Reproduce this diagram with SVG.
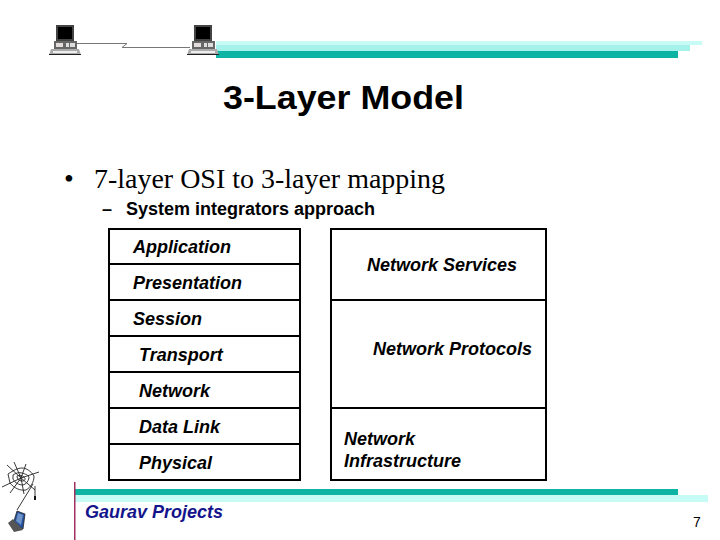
<svg xmlns="http://www.w3.org/2000/svg" width="720" height="540" viewBox="0 0 720 540">
<style>
text{font-family:"Liberation Sans",Arial,sans-serif;fill:#000}
.b{font-weight:bold;font-style:italic;font-size:18px}
.s{font-family:"Liberation Serif","Times New Roman",serif;font-size:28px}
.box{fill:#fff;stroke:#000;stroke-width:2}
.web{fill:none;stroke:#222;stroke-width:.9}
</style>
<defs>
<g id="pc">
<rect x="7" y="0" width="18" height="16" fill="#444"/><rect x="9" y="2" width="14" height="12" fill="#000"/>
<rect x="5" y="16" width="23" height="8" fill="#666"/><rect x="7" y="18" width="7" height="4" fill="#e4dcdc"/><rect x="17" y="18" width="3" height="4" fill="#ddd"/><rect x="21" y="18" width="5" height="4" fill="#ddd"/>
<path d="M2 24H30L32 30H0Z" fill="#aaa"/><rect x="0" y="29" width="32" height="1" fill="#222"/><rect x="4" y="26" width="24" height="2" fill="#eee"/>
</g>
</defs>
<rect width="720" height="540" fill="#fff"/>
<g id="top-bars">
<rect x="216" y="41" width="486" height="4" fill="#c6fbf6"/>
<rect x="216" y="45" width="474" height="6" fill="#a5f2ea"/>
<rect x="216" y="51" width="462" height="7" fill="#0db3a3"/>
</g>
<g id="connectors">
<path d="M77 43.500H127L122 47.500H190" fill="none" stroke="#777" stroke-width="1"/>
</g>
<g id="pc-left"><use href="#pc" x="49" y="25"/></g>
<g id="pc-right"><use href="#pc" x="187" y="25"/></g>
<text x="223" y="109" font-size="33" font-weight="bold" textLength="241" lengthAdjust="spacingAndGlyphs">3-Layer Model</text>
<text x="64" y="188" class="s">•</text>
<text x="94" y="188" class="s" textLength="351" lengthAdjust="spacingAndGlyphs">7-layer OSI to 3-layer mapping</text>
<text x="102" y="215" style="font-size:18px;font-weight:bold">–</text>
<text x="126" y="215" style="font-size:18px;font-weight:bold" textLength="249" lengthAdjust="spacingAndGlyphs">System integrators approach</text>
<g id="osi-application"><rect class="box" x="109" y="229" width="191" height="35"/><text class="b" x="133" y="253">Application</text></g>
<g id="osi-presentation"><rect class="box" x="109" y="264" width="191" height="36"/><text class="b" x="133" y="289">Presentation</text></g>
<g id="osi-session"><rect class="box" x="109" y="300" width="191" height="36"/><text class="b" x="133" y="325">Session</text></g>
<g id="osi-transport"><rect class="box" x="109" y="336" width="191" height="36"/><text class="b" x="139" y="361">Transport</text></g>
<g id="osi-network"><rect class="box" x="109" y="372" width="191" height="36"/><text class="b" x="139" y="397">Network</text></g>
<g id="osi-datalink"><rect class="box" x="109" y="408" width="191" height="36"/><text class="b" x="139" y="433">Data Link</text></g>
<g id="osi-physical"><rect class="box" x="109" y="444" width="191" height="36"/><text class="b" x="139" y="469">Physical</text></g>
<g id="net-services"><rect class="box" x="331" y="229" width="215" height="71"/><text class="b" x="367" y="271">Network Services</text></g>
<g id="net-protocols"><rect class="box" x="331" y="300" width="215" height="108"/><text class="b" x="373" y="355">Network Protocols</text></g>
<g id="net-infra"><rect class="box" x="331" y="408" width="215" height="72"/><text class="b" x="344" y="445">Network</text><text class="b" x="344" y="467">Infrastructure</text></g>
<g id="bottom-bars">
<rect x="75" y="489" width="603" height="7" fill="#0db3a3"/>
<rect x="75" y="495" width="633" height="7" fill="#c6fbf6"/>
<rect x="74" y="482" width="1.500" height="58" fill="#a03060"/>
</g>
<g id="web-logo">
<path class="web" d="M8 474C14 470 18 468 22 468S31 471 34 476C34 482 31 487 26 490C20 491 14 488 10 483Z"/>
<path class="web" d="M13 475C16 473 19 472 22 473S29 475 29 478C28 482 26 484 23 485C19 485 15 483 13 479Z"/>
<path class="web" d="M17 476C19 475 22 475 24 477S25 481 22 481C19 481 17 479 17 476Z"/>
<path class="web" d="M2 487 21 478M7 465 21 478M14 462 21 478M26 464 21 478M39 472 21 478M35 490 21 478M24 494 21 478M10 493 21 478"/>
<path class="web" d="M33 484 17 510M35 486V496"/>
<rect x="34" y="496" width="2" height="4" fill="#111"/>
<path d="M13 524 17 511 25 514 23 529Z" fill="#27509a" stroke="#222" stroke-width=".8"/>
<path d="M8 523 14 532 23 530 13 519Z" fill="#555"/>
<path d="M16 521 18 513 23 515 21 525Z" fill="#6d93c9"/>
</g>
<text x="85" y="518" font-size="18" font-weight="bold" font-style="italic" style="fill:#14148c">Gaurav Projects</text>
<text x="693" y="527" font-size="14">7</text>
</svg>
